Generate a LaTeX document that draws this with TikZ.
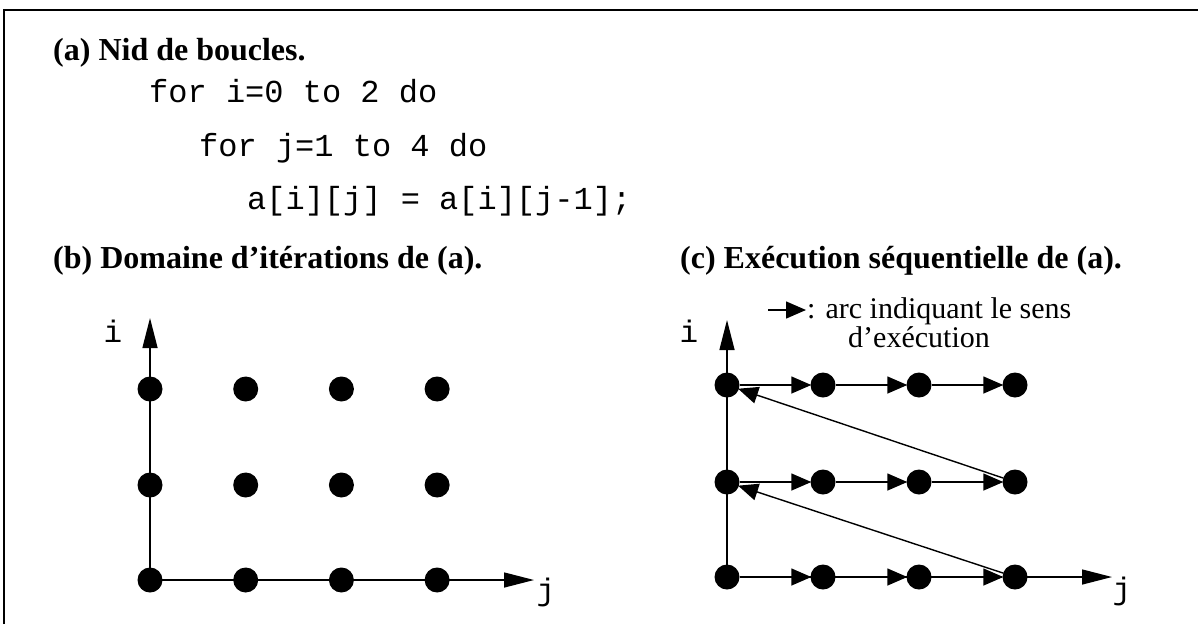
\documentclass[tikz,border=0pt]{standalone}
\usepackage{fontspec}
\setmainfont{Liberation Serif}
\setmonofont{Liberation Mono}
\usetikzlibrary{arrows.meta}
\begin{document}
\begin{tikzpicture}[x=1pt,y=-1pt,
  dot/.style={circle,fill=black,inner sep=0pt,minimum size=25pt},
  arr/.style={line width=1.4pt,-{Triangle[length=20pt,width=17pt]},shorten >=-1pt},
  axisarr/.style={line width=1.4pt,-{Triangle[length=30pt,width=15pt]}},
  ttl/.style={anchor=base west,inner sep=0pt,font=\fontsize{32}{38}\selectfont\bfseries},
  code/.style={anchor=base west,inner sep=0pt,font=\fontsize{32}{38}\selectfont\ttfamily},
  lbl/.style={anchor=base,inner sep=0pt,font=\fontsize{31}{36}\selectfont\ttfamily},
  leg/.style={anchor=base west,inner sep=0pt,font=\fontsize{30}{27.5}\selectfont}]
\useasboundingbox (0,0) rectangle (1198,624);
\draw[line width=2pt] (4,624) -- (4,10) -- (1198,10);

% (a)
\node[ttl] (ta) at (53,60) {(a) Nid de boucles.};
\node[code] (l1) at (149,102) {for i=0 to 2 do};
\node[code] (l2) at (199,156) {for j=1 to 4 do};
\node[code] (l3) at (247,209) {a[i][j] = a[i][j-1];};

% (b)
\node[ttl] (tb) at (53,268) {(b) Domaine d’itérations de (a).};
\foreach \r/\y in {0/580,1/485,2/389}{
  \foreach \k in {0,1,2,3}{
    \node[dot] (b-\r-\k) at ({150+95.7*\k},\y) {};
  }
}
\coordinate (bi) at (150,318);
\coordinate (bj) at (534,580);
\draw[axisarr] (b-0-0.center) -- (bi);
\draw[axisarr] (b-0-0.center) -- (bj);
\node[lbl] (bil) at (113,342) {i};
\node[lbl] (bjl) at (546,600) {j};

% (c)
\node[ttl] (tc) at (680,268) {(c) Exécution séquentielle de (a).};
\foreach \r/\y in {0/577,1/482,2/385}{
  \foreach \k in {0,1,2,3}{
    \node[dot] (c-\r-\k) at ({727+96*\k},\y) {};
  }
}
\coordinate (ci) at (727,320);
\coordinate (cj) at (1112,577);
\draw[axisarr] (c-0-0.center) -- (ci);
\draw[axisarr] (c-0-3.center) -- (cj);
\draw[line width=1.4pt] (c-0-0) -- (c-0-3);
\foreach \r in {0,1,2}{
  \draw[arr] (c-\r-0) -- (c-\r-1);
  \draw[arr] (c-\r-1) -- (c-\r-2);
  \draw[arr] (c-\r-2) -- (c-\r-3);
}
\draw[arr] (c-0-3) -- (c-1-0);
\draw[arr] (c-1-3) -- (c-2-0);
\node[lbl] (cil) at (689,342) {i};
\node[lbl] (cjl) at (1122,599) {j};

% legend
\coordinate (la) at (768,310);
\coordinate (lb) at (806,310);
\draw[arr,shorten >=0pt] (la) -- (lb);
\node[leg] (lt) at (807,318) {\begin{tabular}[t]{@{}l@{}}: arc indiquant le sens\\\hspace*{41pt}d’exécution\end{tabular}};
\end{tikzpicture}
\end{document}
